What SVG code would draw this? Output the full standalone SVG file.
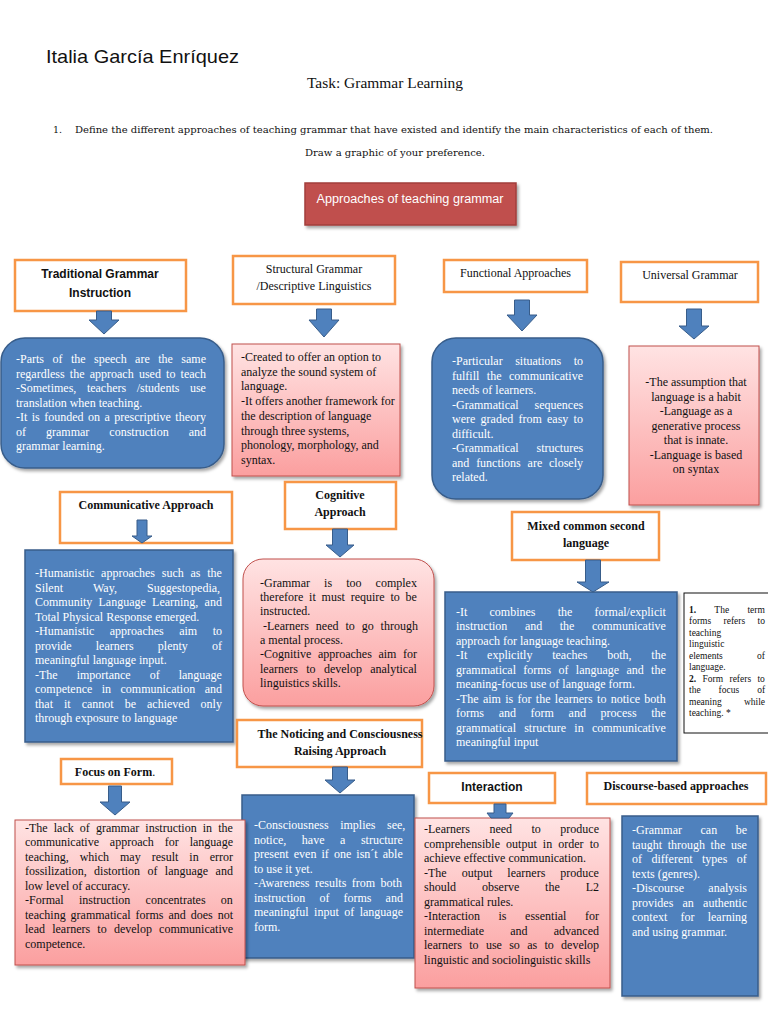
<svg xmlns="http://www.w3.org/2000/svg" width="768" height="1024" viewBox="0 0 768 1024">
<defs>
<linearGradient id="pinkg" x1="0" y1="0" x2="0" y2="1">
<stop offset="0" stop-color="#ffe3e3"/>
<stop offset="1" stop-color="#fb9f9f"/>
</linearGradient>
<filter id="sh" x="-10%" y="-10%" width="125%" height="125%">
<feDropShadow dx="2" dy="2.5" stdDeviation="1.5" flood-color="#000" flood-opacity="0.35"/>
</filter>
<style>
.hdr{fill:#fff;stroke:#f79646;stroke-width:2.5}
.blue{fill:#4f81bd;stroke:#385d8a;stroke-width:1.5;filter:url(#sh)}
.pink{fill:url(#pinkg);stroke:#c0504d;stroke-width:1;filter:url(#sh)}
.arr{fill:#4f81bd;stroke:#385d8a;stroke-width:1}
.wt{font-family:"Liberation Serif",serif;font-size:12px;fill:#fff}
.bt{font-family:"Liberation Serif",serif;font-size:12px;fill:#111}
.hs{font-family:"Liberation Serif",serif;font-size:12px;fill:#111;text-anchor:middle}
.hb{font-family:"Liberation Serif",serif;font-size:12px;font-weight:bold;fill:#111;text-anchor:middle}
.hc{font-family:"Liberation Sans",sans-serif;font-size:12px;font-weight:bold;fill:#111;text-anchor:middle}
.nt{font-family:"Liberation Serif",serif;font-size:9.5px;fill:#111}
.c{text-anchor:middle}
</style>
</defs>
<rect width="768" height="1024" fill="#fff"/>

<g id="title">
<text x="46" y="63" font-family="Liberation Sans,sans-serif" font-size="19" fill="#111" textLength="193" lengthAdjust="spacingAndGlyphs">Italia García Enríquez</text>
<text x="385" y="88" font-family="Liberation Serif,serif" font-size="15" fill="#111" text-anchor="middle" textLength="156" lengthAdjust="spacingAndGlyphs">Task: Grammar Learning</text>
<text x="53" y="133" font-family="DejaVu Serif,serif" font-size="9.5" fill="#111">1.</text>
<text x="75" y="133" font-family="DejaVu Serif,serif" font-size="9.5" fill="#111" textLength="638" lengthAdjust="spacingAndGlyphs">Define the different approaches of teaching grammar that have existed and identify the main characteristics of each of them.</text>
<text x="305" y="156" font-family="DejaVu Serif,serif" font-size="9.5" fill="#111" textLength="180" lengthAdjust="spacingAndGlyphs">Draw a graphic of your preference.</text>
</g>

<g id="root">
<rect x="305" y="183" width="211" height="42" fill="#c0504d" stroke="#a23e3b" stroke-width="1.5" filter="url(#sh)"/>
<text x="410" y="203" font-family="Liberation Sans,sans-serif" font-size="12.5" fill="#fff" text-anchor="middle" textLength="187" lengthAdjust="spacingAndGlyphs">Approaches of teaching grammar</text>
</g>

<g id="traditional">
<rect class="hdr" x="15" y="260" width="171" height="51"/>
<text class="hc" x="100" y="278">Traditional Grammar</text>
<text class="hc" x="100" y="297">Instruction</text>
<rect class="blue" x="1" y="338" width="223" height="130" rx="24"/>
<text class="wt" x="16" y="363" word-spacing="5.45">-Parts of the speech are the same</text>
<text class="wt" x="16" y="377.5" word-spacing="2.2">regardless the approach used to teach</text>
<text class="wt" x="16" y="392" word-spacing="7.55">-Sometimes, teachers /students use</text>
<text class="wt" x="16" y="406.5">translation when teaching.</text>
<text class="wt" x="16" y="421" word-spacing="1.45">-It is founded on a prescriptive theory</text>
<text class="wt" x="16" y="435.5" word-spacing="17">of grammar construction and</text>
<text class="wt" x="16" y="450">grammar learning.</text>
</g>

<g id="structural">
<rect class="hdr" x="233" y="256" width="162" height="48"/>
<text class="hs" x="314" y="273">Structural Grammar</text>
<text class="hs" x="314" y="290">/Descriptive Linguistics</text>
<rect class="pink" x="232" y="344" width="168" height="132"/>
<text class="bt" x="241" y="361">-Created to offer an option to</text>
<text class="bt" x="241" y="375.7">analyze the sound system of</text>
<text class="bt" x="241" y="390.4">language.</text>
<text class="bt" x="241" y="405.1">-It offers another framework for</text>
<text class="bt" x="241" y="419.8">the description of language</text>
<text class="bt" x="241" y="434.5">through three systems,</text>
<text class="bt" x="241" y="449.2">phonology, morphology, and</text>
<text class="bt" x="241" y="464">syntax.</text>
</g>

<g id="functional">
<rect class="hdr" x="444" y="260" width="143" height="32"/>
<text class="hs" x="515.5" y="277">Functional Approaches</text>
<rect class="blue" x="432" y="338" width="171" height="161" rx="24"/>
<text class="wt" x="452" y="365" word-spacing="9.5">-Particular situations to</text>
<text class="wt" x="452" y="379.5" word-spacing="4.5">fulfill the communicative</text>
<text class="wt" x="452" y="394">needs of learners.</text>
<text class="wt" x="452" y="408.5" word-spacing="12.9">-Grammatical sequences</text>
<text class="wt" x="452" y="423" word-spacing="2.25">were graded from easy to</text>
<text class="wt" x="452" y="437.5">difficult.</text>
<text class="wt" x="452" y="452" word-spacing="14.9">-Grammatical structures</text>
<text class="wt" x="452" y="466.5" word-spacing="3.8">and functions are closely</text>
<text class="wt" x="452" y="481">related.</text>
</g>

<g id="universal">
<rect class="hdr" x="621" y="262" width="137" height="40"/>
<text class="hs" x="690" y="279">Universal Grammar</text>
<rect class="pink" x="629" y="346" width="130" height="159"/>
<text class="bt c" x="696" y="386">-The assumption that</text>
<text class="bt c" x="696" y="400.5">language is a habit</text>
<text class="bt c" x="696" y="415">-Language as a</text>
<text class="bt c" x="696" y="429.5">generative process</text>
<text class="bt c" x="696" y="444">that is innate.</text>
<text class="bt c" x="696" y="458.5">-Language is based</text>
<text class="bt c" x="696" y="473">on syntax</text>
</g>

<g id="communicative">
<rect class="hdr" x="60" y="492" width="172" height="51"/>
<text class="hb" x="146" y="509">Communicative Approach</text>
<rect class="blue" x="25" y="550" width="208" height="192"/>
<text class="wt" x="35" y="577" word-spacing="3.75">-Humanistic approaches such as the</text>
<text class="wt" x="35" y="591.5" word-spacing="27.2">Silent Way, Suggestopedia,</text>
<text class="wt" x="35" y="606" word-spacing="3.2">Community Language Learning, and</text>
<text class="wt" x="35" y="620.5">Total Physical Response emerged.</text>
<text class="wt" x="35" y="635" word-spacing="12.45">-Humanistic approaches aim to</text>
<text class="wt" x="35" y="649.5" word-spacing="21.1">provide learners plenty of</text>
<text class="wt" x="35" y="664">meaningful language input.</text>
<text class="wt" x="35" y="678.5" word-spacing="16">-The importance of language</text>
<text class="wt" x="35" y="693" word-spacing="6.45">competence in communication and</text>
<text class="wt" x="35" y="707.5" word-spacing="8">that it cannot be achieved only</text>
<text class="wt" x="35" y="722">through exposure to language</text>
</g>

<g id="cognitive">
<rect class="hdr" x="285" y="482" width="111" height="47"/>
<text class="hb" x="340" y="499">Cognitive</text>
<text class="hb" x="340" y="516">Approach</text>
<rect class="pink" x="243" y="559" width="191" height="147" rx="20"/>
<text class="bt" x="260" y="586.5" word-spacing="11.1">-Grammar is too complex</text>
<text class="bt" x="260" y="601" word-spacing="2.8">therefore it must require to be</text>
<text class="bt" x="260" y="615">instructed.</text>
<text class="bt" x="263" y="629.5" word-spacing="3.9">-Learners need to go through</text>
<text class="bt" x="260" y="644">a mental process.</text>
<text class="bt" x="260" y="658" word-spacing="3.55">-Cognitive approaches aim for</text>
<text class="bt" x="260" y="672.5" word-spacing="5.3">learners to develop analytical</text>
<text class="bt" x="260" y="686.5">linguistics skills.</text>
</g>

<g id="mixed">
<rect class="hdr" x="512" y="512" width="147" height="48"/>
<text class="hb" x="586" y="530">Mixed common second</text>
<text class="hb" x="586" y="546.5">language</text>
<rect class="blue" x="445" y="592" width="232" height="169"/>
<text class="wt" x="456" y="615.5" word-spacing="19.2">-It combines the formal/explicit</text>
<text class="wt" x="456" y="630" word-spacing="14.55">instruction and the communicative</text>
<text class="wt" x="456" y="644.5">approach for language teaching.</text>
<text class="wt" x="456" y="659" word-spacing="16.75">-It explicitly teaches both, the</text>
<text class="wt" x="456" y="673.5" word-spacing="4.3">grammatical forms of language and the</text>
<text class="wt" x="456" y="688">meaning-focus use of language form.</text>
<text class="wt" x="456" y="702.5" word-spacing="1.3">-The aim is for the learners to notice both</text>
<text class="wt" x="456" y="717" word-spacing="11.65">forms and form and process the</text>
<text class="wt" x="456" y="731.5" word-spacing="5.2">grammatical structure in communicative</text>
<text class="wt" x="456" y="746">meaningful input</text>
</g>

<g id="note">
<rect x="684" y="593" width="90" height="140" fill="#fff" stroke="#111" stroke-width="1"/>
<text class="nt" x="689" y="612.5" word-spacing="16"><tspan font-weight="bold">1.</tspan> The term</text>
<text class="nt" x="689" y="624" word-spacing="10">forms refers to</text>
<text class="nt" x="689" y="635.5">teaching</text>
<text class="nt" x="689" y="647">linguistic</text>
<text class="nt" x="689" y="658.5" word-spacing="31.9">elements of</text>
<text class="nt" x="689" y="670">language.</text>
<text class="nt" x="689" y="681.5" word-spacing="4"><tspan font-weight="bold">2.</tspan> Form refers to</text>
<text class="nt" x="689" y="693" word-spacing="15.6">the focus of</text>
<text class="nt" x="689" y="704.5" word-spacing="19.8">meaning while</text>
<text class="nt" x="689" y="716">teaching. *</text>
</g>

<g id="noticing">
<rect class="hdr" x="237" y="720" width="185" height="47"/>
<text class="hb" x="340" y="738">The Noticing and Consciousness</text>
<text class="hb" x="340" y="755">Raising Approach</text>
<rect class="blue" x="242" y="795" width="172" height="163"/>
<text class="wt" x="254" y="829" word-spacing="8.5">-Consciousness implies see,</text>
<text class="wt" x="254" y="843.5" word-spacing="12.55">notice, have a structure</text>
<text class="wt" x="254" y="858" word-spacing="2.1">present even if one isn´t able</text>
<text class="wt" x="254" y="872.5">to use it yet.</text>
<text class="wt" x="254" y="887" word-spacing="2.45">-Awareness results from both</text>
<text class="wt" x="254" y="901.5" word-spacing="11.1">instruction of forms and</text>
<text class="wt" x="254" y="916" word-spacing="2.45">meaningful input of language</text>
<text class="wt" x="254" y="930.5">form.</text>
</g>

<g id="focus">
<rect class="hdr" x="61" y="759" width="111" height="25"/>
<text class="hb" x="115" y="776">Focus on Form<tspan font-weight="normal">.</tspan></text>
<rect class="pink" x="15" y="820" width="230" height="145"/>
<text class="bt" x="25" y="831.5" word-spacing="3.1">-The lack of grammar instruction in the</text>
<text class="bt" x="25" y="846" word-spacing="7.9">communicative approach for language</text>
<text class="bt" x="25" y="860.5" word-spacing="8">teaching, which may result in error</text>
<text class="bt" x="25" y="875" word-spacing="4.4">fossilization, distortion of language and</text>
<text class="bt" x="25" y="889.5">low level of accuracy.</text>
<text class="bt" x="25" y="904" word-spacing="12.3">-Formal instruction concentrates on</text>
<text class="bt" x="25" y="918.5" word-spacing="1.95">teaching grammatical forms and does not</text>
<text class="bt" x="25" y="933" word-spacing="4.2">lead learners to develop communicative</text>
<text class="bt" x="25" y="947.5">competence.</text>
</g>

<g id="interaction">
<rect class="hdr" x="429" y="773" width="126" height="30"/>
<text class="hc" x="492" y="791">Interaction</text>
<rect class="pink" x="415" y="818" width="195" height="170"/>
<text class="bt" x="424" y="833" word-spacing="16.45">-Learners need to produce</text>
<text class="bt" x="424" y="847.5" word-spacing="3.1">comprehensible output in order to</text>
<text class="bt" x="424" y="862">achieve effective communication.</text>
<text class="bt" x="424" y="876.5" word-spacing="12">-The output learners produce</text>
<text class="bt" x="424" y="891" word-spacing="22.9">should observe the L2</text>
<text class="bt" x="424" y="905.5">grammatical rules.</text>
<text class="bt" x="424" y="920" word-spacing="15.55">-Interaction is essential for</text>
<text class="bt" x="424" y="934.5" word-spacing="23.2">intermediate and advanced</text>
<text class="bt" x="424" y="949" word-spacing="4.3">learners to use so as to develop</text>
<text class="bt" x="424" y="963.5">linguistic and sociolinguistic skills</text>
</g>

<g id="discourse">
<rect class="hdr" x="587" y="773" width="179" height="31"/>
<text class="hb" x="676" y="790">Discourse-based approaches</text>
<rect class="blue" x="622" y="816" width="136" height="180"/>
<text class="wt" x="632" y="834" word-spacing="15.5">-Grammar can be</text>
<text class="wt" x="632" y="848.5" word-spacing="2.65">taught through the use</text>
<text class="wt" x="632" y="863" word-spacing="6.45">of different types of</text>
<text class="wt" x="632" y="877.5">texts (genres).</text>
<text class="wt" x="632" y="892" word-spacing="21.35">-Discourse analysis</text>
<text class="wt" x="632" y="906.5" word-spacing="6.2">provides an authentic</text>
<text class="wt" x="632" y="921" word-spacing="10.2">context for learning</text>
<text class="wt" x="632" y="935.5">and using grammar.</text>
</g>

<g id="connectors">
<path class="arr" d="M96.5 311 H111.5 V320 H119 L104 334 L89 320 H96.5 Z"/>
<path class="arr" d="M316.5 309 H331.5 V320 H339 L324 337 L309 320 H316.5 Z"/>
<path class="arr" d="M514.5 300 H529.5 V315 H537 L522 331 L507 315 H514.5 Z"/>
<path class="arr" d="M686.5 309 H701.5 V326 H709 L694 339 L679 326 H686.5 Z"/>
<path class="arr" d="M137 520 H147 V536 H152 L142 543 L132 536 H137 Z"/>
<path class="arr" d="M332.5 529 H347.5 V545 H354 L340 557 L326 545 H332.5 Z"/>
<path class="arr" d="M585.5 560 H600.5 V582 H609 L593 592 L577 582 H585.5 Z"/>
<path class="arr" d="M108.5 786 H121.5 V802 H130 L115 815 L100 802 H108.5 Z"/>
<path class="arr" d="M332.5 767 H347.5 V780 H355 L340 793 L325 780 H332.5 Z"/>
<path class="arr" d="M494 804 H506 V813 H513 L509 818 H491 L487 813 H494 Z"/>
</g>
</svg>
